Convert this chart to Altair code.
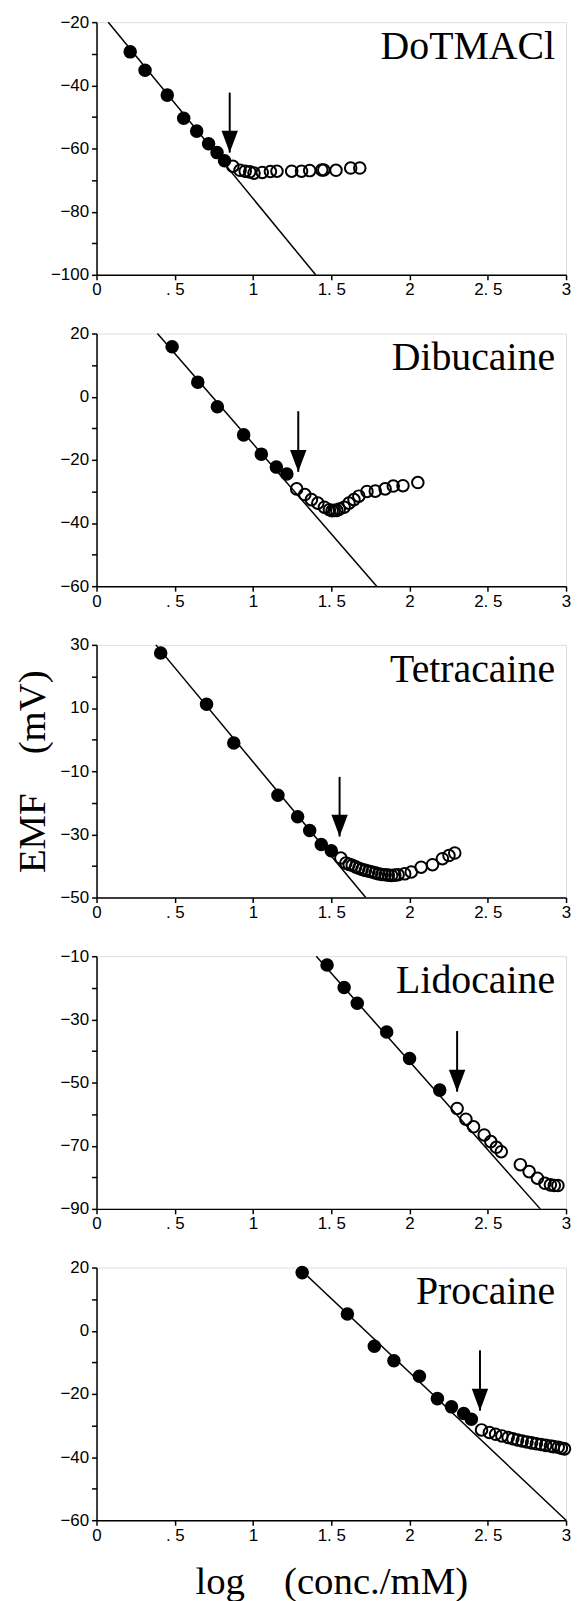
import altair as alt
import pandas as pd

# ---------------- data ----------------
x_ticks = [0, 0.5, 1, 1.5, 2, 2.5, 3]

# DoTMACl
dot_name = "DoTMACl"
dot_ydom = [-100, -20]
dot_fill_x = [0.215, 0.310, 0.452, 0.557, 0.640, 0.716, 0.770, 0.818]
dot_fill_y = [-29.4, -35.2, -43.1, -50.4, -54.5, -58.5, -61.3, -63.9]
dot_open_x = [0.871, 0.917, 0.950, 0.979, 1.006, 1.059, 1.111, 1.153, 1.247, 1.310,
              1.362, 1.439, 1.452, 1.530, 1.624, 1.682]
dot_open_y = [-65.6, -66.9, -67.2, -67.4, -67.8, -67.6, -67.3, -67.2, -67.2, -67.2,
              -67.0, -66.8, -66.8, -66.9, -66.2, -66.2]
dot_fit_x = [0.075, 1.40]
dot_fit_y = [-20, -100]
dot_arrow = [0.851, -42.3, -61.3]

# Dibucaine
dib_name = "Dibucaine"
dib_ydom = [-60, 20]
dib_fill_x = [0.483, 0.647, 0.772, 0.940, 1.053, 1.149, 1.216]
dib_fill_y = [15.8, 4.6, -3.2, -12.1, -18.2, -22.3, -24.5]
dib_open_x = [1.279, 1.331, 1.373, 1.414, 1.456, 1.488, 1.505, 1.519, 1.535, 1.551,
              1.582, 1.613, 1.645, 1.676, 1.728, 1.781, 1.844, 1.896, 1.958, 2.053]
dib_open_y = [-29.2, -31.0, -32.6, -33.7, -35.0, -35.8, -36.1, -36.0, -36.0, -35.6,
              -35.0, -33.7, -32.6, -31.5, -30.0, -29.9, -29.2, -28.3, -28.2, -27.2]
dib_fit_x = [0.389, 1.79]
dib_fit_y = [20, -60]
dib_arrow = [1.289, -4.6, -23.8]

# Tetracaine
tet_name = "Tetracaine"
tet_ydom = [-50, 30]
tet_fill_x = [0.410, 0.703, 0.877, 1.159, 1.285, 1.362, 1.436, 1.500]
tet_fill_y = [27.4, 11.2, -1.1, -17.6, -24.4, -28.8, -33.2, -35.2]
tet_open_x = [1.561, 1.593, 1.614, 1.634, 1.655, 1.676, 1.697, 1.718, 1.740, 1.760,
              1.781, 1.802, 1.823, 1.844, 1.865, 1.885, 1.906, 1.927, 1.969, 2.011,
              2.074, 2.147, 2.210, 2.252, 2.289]
tet_open_y = [-37.5, -39.1, -39.5, -39.8, -40.3, -40.7, -41.1, -41.4, -41.7, -41.9,
              -42.2, -42.5, -42.7, -42.8, -42.9, -43.0, -42.9, -42.8, -42.5, -41.9,
              -40.4, -39.6, -37.7, -36.7, -35.9]
tet_fit_x = [0.379, 1.72]
tet_fit_y = [30, -50]
tet_arrow = [1.553, -11.8, -30.7]

# Lidocaine
lid_name = "Lidocaine"
lid_ydom = [-90, -10]
lid_fill_x = [1.473, 1.582, 1.666, 1.854, 2.000, 2.193]
lid_fill_y = [-12.8, -19.9, -24.9, -34.0, -42.4, -52.4]
lid_open_x = [2.304, 2.360, 2.409, 2.477, 2.519, 2.555, 2.586, 2.708, 2.764, 2.817,
              2.865, 2.900, 2.925, 2.948]
lid_open_y = [-58.2, -61.6, -64.0, -66.6, -68.7, -70.5, -71.9, -76.0, -78.2, -80.3,
              -81.9, -82.4, -82.6, -82.6]
lid_fit_x = [1.404, 2.835]
lid_fit_y = [-10, -90]
lid_arrow = [2.304, -33.7, -52.9]

# Procaine
pro_name = "Procaine"
pro_ydom = [-60, 20]
pro_fill_x = [1.314, 1.603, 1.775, 1.900, 2.063, 2.178, 2.268, 2.346, 2.395]
pro_fill_y = [18.4, 5.3, -4.9, -9.5, -14.4, -21.5, -24.1, -26.2, -28.0]
pro_open_x = [2.46, 2.51, 2.55, 2.59, 2.63, 2.66, 2.69, 2.72, 2.75, 2.78,
              2.81, 2.84, 2.87, 2.90, 2.92, 2.95, 2.97, 2.99]
pro_open_y = [-31.4, -32.2, -32.8, -33.3, -33.8, -34.2, -34.6, -34.9, -35.2, -35.5,
              -35.8, -36.0, -36.3, -36.5, -36.7, -36.9, -37.2, -37.4]
pro_fit_x = [1.29, 3.0]
pro_fit_y = [20, -60]
pro_arrow = [2.450, -6.2, -25.3]

y_title = "EMF\u3000(mV)"
x_title = "log\u3000(conc./mM)"

# ---------------- styling ----------------
W, H = 472, 254
TICK_FONT = "Liberation Sans Narrow, Liberation Sans, sans-serif"
SERIF = "Liberation Serif"
HEAD = "M-0.75,-1L0.75,-1L0,1Z"

x_label_expr = ("datum.value % 1 == 0 ? format(datum.value, 'd') : "
                "(datum.value < 1 ? '. 5' : format(floor(datum.value), 'd') + '. 5')")


def panel(name, ydom, fx, fy, ox, oy, lx, ly, arrow, ytitle=None, xtitle=None):
    xs = alt.Scale(domain=[0, 3], nice=False, zero=False)
    ys = alt.Scale(domain=ydom, nice=False, zero=False)
    yvals = list(range(ydom[0], ydom[1] + 1, 10))
    xaxis = alt.Axis(values=x_ticks, labelExpr=x_label_expr, labelFlush=False,
                     labelFont=TICK_FONT, labelFontSize=17, labelColor="black",
                     tickSize=5, tickColor="black", tickWidth=1.5,
                     domainColor="black", domainWidth=1.5, labelPadding=2,
                     grid=False, title=xtitle, titleFont=SERIF, titleFontSize=39,
                     titleFontWeight="normal", titleColor="black", titlePadding=20)
    yaxis = alt.Axis(values=yvals, labelOverlap=False,
                     labelExpr=f"(datum.value - ({ydom[0]})) % 20 == 0 ? datum.label : ''",
                     labelFont=TICK_FONT, labelFontSize=17, labelColor="black",
                     tickSize=5, tickColor="black", tickWidth=1.5,
                     domainColor="black", domainWidth=1.5, labelPadding=3,
                     grid=False, title=ytitle, titleFont=SERIF, titleFontSize=39,
                     titleFontWeight="normal", titleColor="black", titlePadding=7)
    X = alt.X("x:Q", scale=xs, axis=xaxis)
    Y = alt.Y("y:Q", scale=ys, axis=yaxis)

    fit = alt.Chart(pd.DataFrame({"x": lx, "y": ly})).mark_line(
        color="black", strokeWidth=1.5).encode(x=X, y=Y)
    filled = alt.Chart(pd.DataFrame({"x": fx, "y": fy})).mark_circle(
        size=185, color="black", opacity=1).encode(x=X, y=Y)
    opened = alt.Chart(pd.DataFrame({"x": ox, "y": oy})).mark_point(
        shape="circle", filled=False, size=135, color="black", strokeWidth=2,
        opacity=1).encode(x=X, y=Y)
    adf = pd.DataFrame({"x": [arrow[0]], "y": [arrow[1]], "y2": [arrow[2]]})
    shaft = alt.Chart(adf).mark_rule(color="black", strokeWidth=2).encode(
        x=X, y=Y, y2="y2:Q")
    head = alt.Chart(adf).mark_point(
        shape=HEAD, filled=True, size=484, color="black", opacity=1,
        yOffset=-11).encode(x=X, y=alt.Y("y2:Q", scale=ys, axis=yaxis))
    label = alt.Chart(pd.DataFrame({"t": [name]})).mark_text(
        font=SERIF, fontSize=40, align="right", baseline="alphabetic",
        color="black").encode(x=alt.value(W - 11), y=alt.value(37), text="t:N")
    return alt.layer(fit, filled, opened, shaft, head, label).properties(
        width=W, height=H)


p1 = panel(dot_name, dot_ydom, dot_fill_x, dot_fill_y, dot_open_x, dot_open_y,
           dot_fit_x, dot_fit_y, dot_arrow)
p2 = panel(dib_name, dib_ydom, dib_fill_x, dib_fill_y, dib_open_x, dib_open_y,
           dib_fit_x, dib_fit_y, dib_arrow)
p3 = panel(tet_name, tet_ydom, tet_fill_x, tet_fill_y, tet_open_x, tet_open_y,
           tet_fit_x, tet_fit_y, tet_arrow, ytitle=y_title)
p4 = panel(lid_name, lid_ydom, lid_fill_x, lid_fill_y, lid_open_x, lid_open_y,
           lid_fit_x, lid_fit_y, lid_arrow)
p5 = panel(pro_name, pro_ydom, pro_fill_x, pro_fill_y, pro_open_x, pro_open_y,
           pro_fit_x, pro_fit_y, pro_arrow, xtitle=x_title)

chart = alt.vconcat(p1, p2, p3, p4, p5, spacing=59, bounds="flush").properties(
    padding={"left": 5, "top": 0, "right": 0, "bottom": 0}
).configure_view(stroke="black", strokeWidth=1.5).configure(background="white")

chart.save("out.html", embed_options={"renderer": "svg", "actions": False})
